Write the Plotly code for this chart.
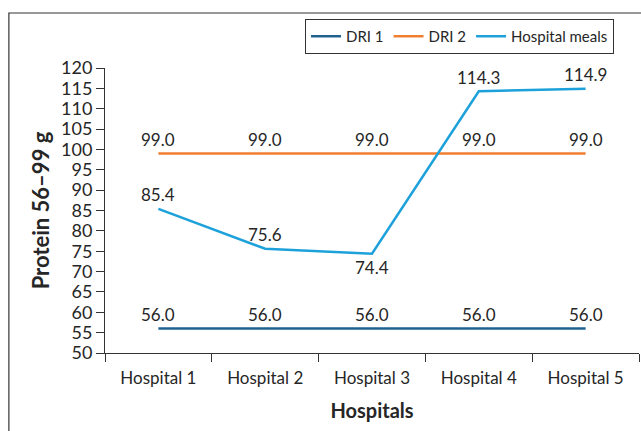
import plotly.graph_objects as go

hospitals = ["Hospital 1", "Hospital 2", "Hospital 3", "Hospital 4", "Hospital 5"]
dri1 = [56.0, 56.0, 56.0, 56.0, 56.0]
dri2 = [99.0, 99.0, 99.0, 99.0, 99.0]
meals = [85.4, 75.6, 74.4, 114.3, 114.9]
# label placement for each series: +1 above the point, -1 below it
dri1_side = [1, 1, 1, 1, 1]
dri2_side = [1, 1, 1, 1, 1]
meals_side = [1, 1, -1, 1, 1]

FONT = "Lato, Open Sans, sans-serif"
TXT = "#262626"

fig = go.Figure()
series = [
    ("DRI 1", dri1, "#1F6290", dri1_side),
    ("DRI 2", dri2, "#F07E30", dri2_side),
    ("Hospital meals", meals, "#1DA1DB", meals_side),
]
for name, vals, color, sides in series:
    fig.add_trace(go.Scatter(
        x=hospitals, y=vals, name=name, mode="lines",
        line=dict(color=color, width=2.5),
        cliponaxis=False,
    ))
    # value labels, offset from the line
    for h, v, s in zip(hospitals, vals, sides):
        fig.add_annotation(
            x=h, y=v, text=f"{v:.1f}", showarrow=False,
            yshift=14 if s > 0 else -14,
            font=dict(size=17, color=TXT, family=FONT),
        )

fig.update_layout(
    width=641, height=431,
    margin=dict(l=105, r=2, t=68, b=78, autoexpand=False),
    paper_bgcolor="white", plot_bgcolor="white",
    font=dict(family=FONT, color=TXT, size=15),
    showlegend=True,
    legend=dict(
        orientation="h", x=0.3745, y=1.172, xanchor="left", yanchor="top",
        bordercolor="#333333", borderwidth=1, bgcolor="white",
        font=dict(size=15, family=FONT, color=TXT),
        itemwidth=30, tracegroupgap=0,
    ),
    xaxis=dict(
        range=[-0.5, 4.5], tickson="boundaries", ticks="outside", ticklen=8,
        tickcolor="#333", showline=True, linecolor="#333", linewidth=1,
        showgrid=False, tickfont=dict(size=17), ticklabelstandoff=10,
        title=dict(text="<b>Hospitals</b>", font=dict(size=20), standoff=16),
    ),
    yaxis=dict(
        range=[50, 120], dtick=5, ticks="outside", ticklen=8,
        tickcolor="#333", showline=True, linecolor="#333", linewidth=1,
        showgrid=False, zeroline=False, tickfont=dict(size=18),
        title=dict(text="<b>Protein 56–99 g</b>", font=dict(size=22), standoff=5),
    ),
)

# outer frame around the chart
fig.add_shape(type="rect", xref="paper", yref="paper",
              x0=-0.18, x1=1.2, y0=-0.5, y1=1.193,
              line=dict(color="#333333", width=1.2), layer="below")

fig.write_html("out.html")
